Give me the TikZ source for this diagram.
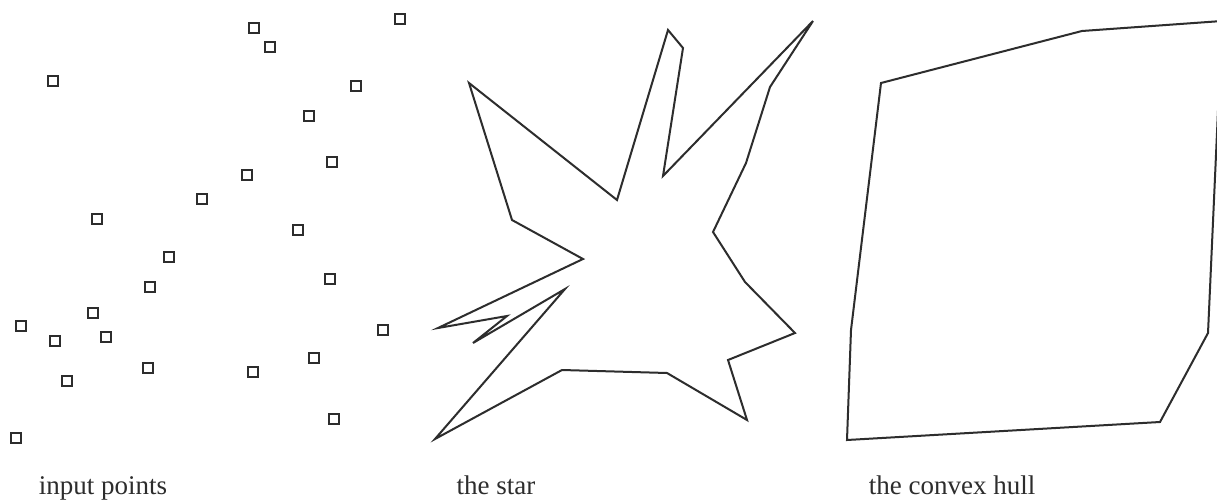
\documentclass[tikz,border=0pt]{standalone}
\usepackage{fontspec}
\setmainfont{Liberation Serif}
\definecolor{ink}{RGB}{45,45,45}
\tikzset{
  pt/.style={draw=ink, line width=1.7pt, minimum size=10.5pt, inner sep=0pt, fill=white},
  poly/.style={draw=ink, line width=2pt, line join=miter},
  lbl/.style={anchor=base, inner sep=0pt, text=ink, font=\fontsize{27}{32}\selectfont}
}
\begin{document}
\begin{tikzpicture}[x=1pt,y=-1pt]
\useasboundingbox (0,0) rectangle (1217,500);
\fill[white] (0,0) rectangle (1217,500);
% input points
\foreach \x/\y [count=\i] in {400/19,254/28,270/47,53/81,356/86,309/116,332/162,247/175,202/199,97/219,298/230,169/257,330/279,150/287,93/313,21/326,55/341,106/337,383/330,314/358,148/368,253/372,67/381,334/419,16/438}
  \node[pt] (p\i) at (\x,\y) {};
% the star
\draw[poly] (469,83) -- (617,200) -- (668,30) -- (683,48) -- (663,176) -- (813,21)
  -- (770,87) -- (746,163) -- (713,232) -- (745,282) -- (795,333) -- (728,360)
  -- (747,420) -- (667,373) -- (562,370) -- (435,439) -- (565,289) -- (473,343)
  -- (507,316) -- (438,328) -- (583,259) -- (512,220) -- cycle;
% the convex hull
\begin{scope}
\clip (0,0) rectangle (1217,500);
\draw[poly] (847,440) -- (851,330) -- (881,83) -- (1082,31) -- (1222,21)
  -- (1208,333) -- (1160,422) -- cycle;
\end{scope}
% labels
\node[lbl] (l1) at (103,494) {input points};
\node[lbl] (l2) at (496,494) {the star};
\node[lbl] (l3) at (952,494) {the convex hull};
\end{tikzpicture}
\end{document}
